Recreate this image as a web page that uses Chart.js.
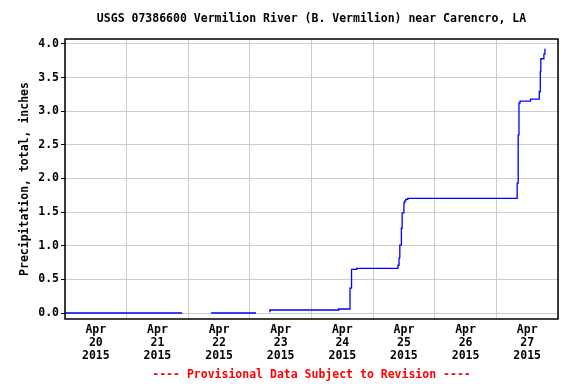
<!DOCTYPE html>
<html>
<head>
<meta charset="utf-8">
<script src="https://cdn.jsdelivr.net/npm/chart.js@4.4.1/dist/chart.umd.min.js"></script>
<style>
  body { margin: 0; background: #fff; }
  #wrap { width: 576px; height: 384px; }
</style>
</head>
<body>
<div id="wrap"><canvas id="precipChart" width="576" height="384"></canvas></div>
<script>
// hours since Apr 20 2015 00:00, null = gap in record
const hours = [0, 45.6, 50, 56.9, 74.4, 77, 79.5, 79.8, 106.6, 111.0, 111.6, 113.6, 129.7, 130.1, 130.4, 131.0, 131.3, 132.0, 132.3, 132.7, 133.5, 176.1, 176.5, 176.8, 177.2, 181.3, 184.7, 185.1, 185.3, 186.5, 186.9];
const inches = [0, 0, null, 0, 0, null, 0.02, 0.045, 0.06, 0.37, 0.65, 0.665, 0.71, 0.82, 1.01, 1.26, 1.49, 1.64, 1.665, 1.69, 1.705, 1.93, 2.65, 3.12, 3.15, 3.18, 3.29, 3.59, 3.78, 3.85, 3.93];
const dayLabels = ['20', '21', '22', '23', '24', '25', '26', '27'];
const monthLabel = 'Apr';
const yearLabel = '2015';
const yTicks = [0, 0.5, 1, 1.5, 2, 2.5, 3, 3.5, 4];
const chartTitle = 'USGS 07386600 Vermilion River (B. Vermilion) near Carencro, LA';
const footerText = '---- Provisional Data Subject to Revision ----';

const fontFam = '"DejaVu Sans Mono", monospace';

// frame round the plot, plus title and footer centred over the plot area
const framePlugin = {
  id: 'frame',
  afterDatasetsDraw(chart) {
    const { ctx, chartArea: a } = chart;
    ctx.save();
    ctx.strokeStyle = '#000';
    ctx.lineWidth = 1.5;
    ctx.strokeRect(a.left, a.top, a.right - a.left, a.bottom - a.top);
    const cx = (a.left + a.right) / 2;
    ctx.font = 'bold 11.5px ' + fontFam;
    ctx.textAlign = 'center';
    ctx.textBaseline = 'middle';
    ctx.fillStyle = '#000';
    ctx.fillText(chartTitle, cx, a.top - 20);
    ctx.fillStyle = '#ff0000';
    ctx.fillText(footerText, cx, chart.height - 9);
    ctx.restore();
  }
};

const points = hours.map((h, i) => ({ x: h, y: inches[i] }));

new Chart(document.getElementById('precipChart'), {
  type: 'line',
  data: {
    datasets: [{
      data: points,
      borderColor: '#0000ff',
      borderWidth: 1.3,
      pointRadius: 0,
      stepped: true,
      spanGaps: false,
      fill: false
    }]
  },
  options: {
    responsive: false,
    animation: false,
    devicePixelRatio: 1,
    layout: { padding: { left: 0, right: 18, top: 39, bottom: 20 } },
    plugins: {
      legend: { display: false },
      tooltip: { enabled: false }
    },
    scales: {
      x: {
        type: 'linear',
        min: 0,
        max: 192,
        afterFit(scale) { scale.height = 45; },
        ticks: {
          stepSize: 12,
          includeBounds: false,
          autoSkip: false,
          maxRotation: 0,
          padding: 5,
          color: '#000',
          font: { family: fontFam, size: 11.5, weight: 'bold', lineHeight: 1.1 },
          callback(v) {
            if (v % 24 !== 12) return '';
            return [monthLabel, dayLabels[Math.floor(v / 24)], yearLabel];
          }
        },
        grid: {
          drawTicks: false,
          color(ctx) {
            return ctx.tick && ctx.tick.value % 24 === 0 ? '#cccccc' : 'rgba(0,0,0,0)';
          },
          lineWidth: 1
        },
        border: { display: false }
      },
      y: {
        min: -0.089,
        max: 4.074,
        afterFit(scale) { scale.width = 65; },
        afterBuildTicks(scale) { scale.ticks = yTicks.map(v => ({ value: v })); },
        ticks: {
          padding: 2,
          color: '#000',
          font: { family: fontFam, size: 11.5, weight: 'bold' },
          callback(v) { return v.toFixed(1); }
        },
        grid: {
          color: '#cccccc',
          tickColor: '#000',
          tickLength: 4,
          lineWidth: 1
        },
        border: { display: false },
        title: {
          display: true,
          text: 'Precipitation, total, inches',
          color: '#000',
          font: { family: fontFam, size: 11.5, weight: 'bold', lineHeight: 1.2 },
          padding: { top: 18, bottom: 0 }
        }
      }
    }
  },
  plugins: [framePlugin]
});
</script>
</body>
</html>
